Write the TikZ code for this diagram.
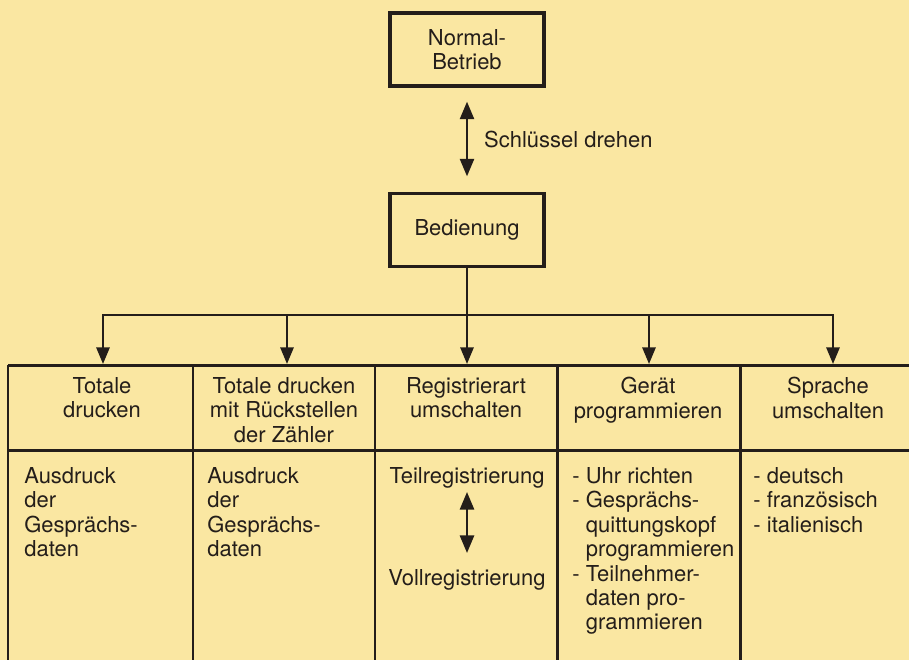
\documentclass[tikz,border=0pt]{standalone}
\usepackage{fontspec}
\setmainfont{TeX Gyre Heros}
\usetikzlibrary{arrows.meta, positioning}
\definecolor{paper}{RGB}{250,231,162}
\definecolor{ink}{RGB}{36,30,26}
\newcommand{\itm}{\makebox[7.7pt][l]{-}}
\newcommand{\indt}{\hspace*{7.7pt}}

\begin{document}
\begin{tikzpicture}[x=0.02cm, y=-0.02cm, color=ink,
    font=\fontsize{12.5pt}{13.9pt}\selectfont,
    mode/.style={draw, line width=1.9pt, minimum width=3.08cm, minimum height=1.46cm, align=center},
    head/.style={anchor=north, align=center, inner sep=0pt},
    cell/.style={anchor=north west, align=left, inner sep=0pt},
    conn/.style={line width=1.4pt},
    tip/.style={-{Triangle[length=9.5pt,width=7.5pt]}},
    dbl/.style={{Triangle[length=10pt,width=8pt]}-{Triangle[length=10pt,width=8pt]}},
    grid/.style={line width=1.7pt}]

  \fill[paper] (0,0) rectangle (909,660);
  \useasboundingbox (0,0) rectangle (909,660);

  % modes
  \node[mode] (normal) at (467,49.5) {Normal-\\Betrieb};
  \node[mode] (bedienung) at (467,230) {Bedienung};
  \draw[conn, dbl, shorten <=0.28cm, shorten >=0.31cm] (normal) -- (bedienung)
    node[midway, right=0.32cm, inner sep=0pt] (schluessel) {Schlüssel drehen};

  % table
  \draw[grid] (8,365) -- (909,365) (8,450) -- (909,450);
  \foreach \x in {8,193,375,557,740}
    \draw[grid] (\x,365) -- (\x,660);

  \node[head] (h1) at (102,377) {Totale\\drucken};
  \node[head] (h2) at (284,377) {Totale drucken\\mit Rückstellen\\der Zähler};
  \node[head] (h3) at (466,377) {Registrierart\\umschalten};
  \node[head] (h4) at (648,377) {Gerät\\programmieren};
  \node[head] (h5) at (828,377) {Sprache\\umschalten};

  % branches
  \foreach \n/\x in {1/103,2/287,3/467,4/649,5/833} {
    \coordinate (j\n) at (\x,315);
    \coordinate (t\n) at (\x,364);
  }
  \draw[conn] (bedienung) -- (j3);
  \draw[conn, line cap=rect] (j1) -- (j5);
  \foreach \n in {1,...,5}
    \draw[conn, tip] (j\n) -- (t\n);

  % contents
  \node[cell] (b1) at (24,467) {Ausdruck\\der\\Gesprächs-\\daten};
  \node[cell] (b2) at (207,467) {Ausdruck\\der\\Gesprächs-\\daten};
  \node[head] (teil) at (467,467) {Teilregistrierung};
  \node[head] (voll) at (467,569) {Vollregistrierung};
  \draw[conn, dbl, shorten <=0.07cm, shorten >=0.32cm] (teil) -- (voll);
  \node[cell] (b4) at (572,467) {\itm Uhr richten\\\itm Gesprächs-\\\indt quittungskopf\\\indt programmieren\\\itm Teilnehmer-\\\indt daten pro-\\\indt grammieren};
  \node[cell] (b5) at (753,467) {\itm deutsch\\\itm französisch\\\itm italienisch};
\end{tikzpicture}
\end{document}
